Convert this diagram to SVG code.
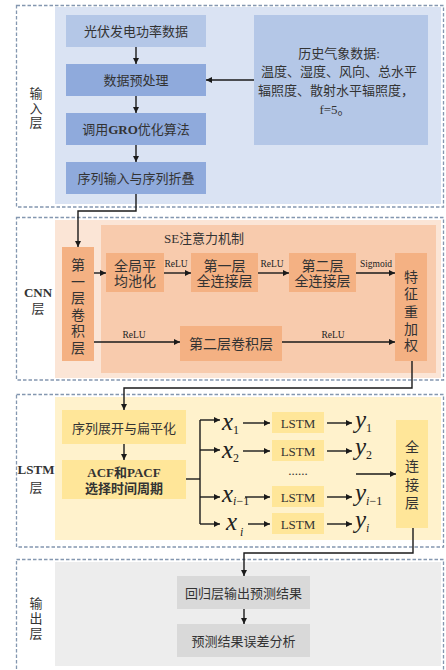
<svg xmlns="http://www.w3.org/2000/svg" width="446" height="670" viewBox="0 0 446 670">
<defs>
<marker id="ah" markerWidth="6" markerHeight="6" refX="6" refY="3" orient="auto" markerUnits="userSpaceOnUse">
<path d="M0,0 L6,3 L0,6 z" fill="#1a1a1a"/>
</marker>
<style>
.dash{fill:#fff;stroke:#8497b0;stroke-width:1.3;stroke-dasharray:3.5,2}
.t{font-family:"Liberation Serif","Noto Sans CJK SC",serif;fill:#333;text-anchor:middle;dominant-baseline:central}
.f13{font-size:13px}
.f14{font-size:14px}
.sm{font-size:9.5px;fill:#222}
.b{font-weight:bold}
.m{font-family:"Liberation Serif",serif;font-style:italic;fill:#222}
.c line,.c polyline{stroke:#1a1a1a;stroke-width:1.4;fill:none}
.ar{marker-end:url(#ah)}
.blue1{fill:#b4c7e7}.blue2{fill:#8faadc}
.or{fill:#f4b183}.ye{fill:#ffe699}.gr{fill:#d9d9d9}
</style>
</defs>
<g id="layers">
<rect class="dash" x="16.5" y="5.5" width="427" height="201.5"/>
<rect x="55" y="7" width="386" height="197" fill="#dae3f3"/>
<rect class="dash" x="16.5" y="217.5" width="427" height="162.5"/>
<rect x="55" y="220" width="386" height="158" fill="#fbe5d6"/>
<rect x="101" y="225" width="335" height="148" fill="#f8cbad"/>
<rect class="dash" x="16.5" y="394.5" width="427" height="152.5"/>
<rect x="55" y="397" width="386" height="143" fill="#fff2cc"/>
<rect class="dash" x="16.5" y="559.5" width="427" height="120"/>
<rect x="55" y="562" width="386" height="104" fill="#ededed"/>
<text class="t f13" x="36"><tspan x="36" y="93">输</tspan><tspan x="36" y="107.5">入</tspan><tspan x="36" y="122">层</tspan></text>
<text class="t f13" x="38"><tspan class="b" x="38" y="292">CNN</tspan><tspan x="38" y="308">层</tspan></text>
<text class="t f13" x="36"><tspan class="b" x="36" y="469">LSTM</tspan><tspan x="36" y="487">层</tspan></text>
<text class="t f13" x="36"><tspan x="36" y="603">输</tspan><tspan x="36" y="618">出</tspan><tspan x="36" y="633">层</tspan></text>
<text class="t f13" x="204" y="238">SE注意力机制</text>
</g>
<g id="n1"><rect class="blue1" x="66" y="15" width="140" height="32"/><text class="t f13" x="136" y="31">光伏发电功率数据</text></g>
<g id="n2"><rect class="blue2" x="66" y="64" width="140" height="32"/><text class="t f13" x="136" y="80">数据预处理</text></g>
<g id="n3"><rect class="blue2" x="66" y="113" width="140" height="32"/><text class="t f13" x="136" y="129">调用<tspan class="b">GRO</tspan>优化算法</text></g>
<g id="n4"><rect class="blue2" x="66" y="162" width="140" height="32"/><text class="t f13" x="136" y="178">序列输入与序列折叠</text></g>
<g id="n5"><rect class="blue1" x="254" y="15" width="174" height="130"/>
<text class="t f13"><tspan x="339" y="53">历史气象数据:</tspan><tspan x="339" y="71">温度、湿度、风向、总水平</tspan><tspan x="336" y="90">辐照度、散射水平辐照度，</tspan><tspan x="335" y="109">f=5。</tspan></text></g>
<g id="n6"><rect class="or" x="62" y="247" width="32" height="114"/>
<text class="t f14"><tspan x="78" y="265">第</tspan><tspan x="78" y="281.5">一</tspan><tspan x="78" y="298">层</tspan><tspan x="78" y="314.5">卷</tspan><tspan x="78" y="331">积</tspan><tspan x="78" y="347.5">层</tspan></text></g>
<g id="n7"><rect class="or" x="106" y="253" width="58" height="39"/><text class="t f14"><tspan x="135" y="266">全局平</tspan><tspan x="135" y="281">均池化</tspan></text></g>
<g id="n8"><rect class="or" x="191" y="253" width="67" height="39"/><text class="t f14"><tspan x="224.5" y="266">第一层</tspan><tspan x="224.5" y="281">全连接层</tspan></text></g>
<g id="n9"><rect class="or" x="289" y="253" width="67" height="39"/><text class="t f14"><tspan x="322.5" y="266">第二层</tspan><tspan x="322.5" y="281">全连接层</tspan></text></g>
<g id="n10"><rect class="or" x="395" y="253" width="32" height="108"/>
<text class="t f14"><tspan x="411" y="277">特</tspan><tspan x="411" y="294">征</tspan><tspan x="411" y="312">重</tspan><tspan x="411" y="329">加</tspan><tspan x="411" y="345">权</tspan></text></g>
<g id="n11"><rect class="or" x="180" y="326" width="102" height="35"/><text class="t f14" x="231" y="344">第二层卷积层</text></g>
<g id="n12"><rect class="ye" x="62" y="410" width="124" height="34"/><text class="t f13" x="124" y="428">序列展开与扁平化</text></g>
<g id="n13"><rect class="ye" x="62" y="460" width="124" height="39"/><text class="t f13"><tspan class="b" x="124" y="472">ACF和PACF</tspan><tspan class="b" x="124" y="488">选择时间周期</tspan></text></g>
<g id="n14"><rect class="ye" x="272" y="412" width="52" height="21"/><text class="t f13" x="298" y="423">LSTM</text></g>
<g id="n15"><rect class="ye" x="272" y="440" width="52" height="21"/><text class="t f13" x="298" y="451">LSTM</text></g>
<g id="n16"><rect class="ye" x="272" y="486" width="52" height="21"/><text class="t f13" x="298" y="497">LSTM</text></g>
<g id="n17"><rect class="ye" x="272" y="513" width="52" height="21"/><text class="t f13" x="298" y="524">LSTM</text></g>
<text class="t f13" x="298" y="470">......</text>
<g id="n18"><rect class="ye" x="396" y="420" width="32" height="108"/>
<text class="t f14"><tspan x="412" y="447">全</tspan><tspan x="412" y="466">连</tspan><tspan x="412" y="485">接</tspan><tspan x="412" y="503">层</tspan></text></g>
<g id="n19"><rect class="gr" x="177" y="576" width="133" height="33"/><text class="t f13" x="243.5" y="593">回归层输出预测结果</text></g>
<g id="n20"><rect class="gr" x="177" y="624" width="133" height="33"/><text class="t f13" x="243.5" y="641">预测结果误差分析</text></g>
<g id="math">
<text class="m" font-size="25" x="222" y="430">x<tspan font-style="normal" font-size="12" dy="4">1</tspan></text>
<text class="m" font-size="25" x="222" y="458">x<tspan font-style="normal" font-size="12" dy="4">2</tspan></text>
<text class="m" font-size="25" x="222" y="502">x<tspan font-size="12" dy="3">i</tspan><tspan font-style="normal" font-size="12">−1</tspan></text>
<text class="m" font-size="25" x="226" y="530">x<tspan font-size="12" dx="3" dy="6">i</tspan></text>
<text class="m" font-size="25" x="355" y="428">y<tspan font-style="normal" font-size="12" dy="4">1</tspan></text>
<text class="m" font-size="25" x="355" y="455">y<tspan font-style="normal" font-size="12" dy="4">2</tspan></text>
<text class="m" font-size="25" x="355" y="501">y<tspan font-size="12" dy="4">i</tspan><tspan font-style="normal" font-size="12">−1</tspan></text>
<text class="m" font-size="25" x="355" y="528">y<tspan font-size="12" dy="4">i</tspan></text>
</g>
<g id="connectors" class="c">
<line class="ar" x1="136" y1="47" x2="136" y2="64"/>
<line class="ar" x1="136" y1="96" x2="136" y2="113"/>
<line class="ar" x1="136" y1="145" x2="136" y2="162"/>
<line class="ar" x1="254" y1="80" x2="206" y2="80"/>
<polyline class="ar" points="136,194 136,211 78,211 78,247"/>
<line class="ar" x1="94" y1="273" x2="106" y2="273"/>
<line class="ar" x1="164" y1="273" x2="191" y2="273"/>
<line class="ar" x1="258" y1="273" x2="289" y2="273"/>
<line class="ar" x1="356" y1="273" x2="395" y2="273"/>
<line class="ar" x1="94" y1="342" x2="180" y2="342"/>
<line class="ar" x1="282" y1="342" x2="395" y2="342"/>
<polyline class="ar" points="412,361 412,388 124,388 124,410"/>
<line class="ar" x1="124" y1="444" x2="124" y2="460"/>
<polyline points="186,479 200,479"/>
<line x1="200" y1="420" x2="200" y2="524"/>
<line class="ar" x1="200" y1="420" x2="220" y2="420"/>
<line class="ar" x1="200" y1="450" x2="220" y2="450"/>
<line class="ar" x1="200" y1="497" x2="220" y2="497"/>
<line class="ar" x1="200" y1="524" x2="220" y2="524"/>
<line class="ar" x1="243" y1="423" x2="270" y2="423"/>
<line class="ar" x1="243" y1="451" x2="270" y2="451"/>
<line class="ar" x1="245" y1="497" x2="270" y2="497"/>
<line class="ar" x1="248" y1="524" x2="270" y2="524"/>
<line class="ar" x1="327" y1="423" x2="352" y2="423"/>
<line class="ar" x1="327" y1="451" x2="352" y2="451"/>
<line class="ar" x1="327" y1="497" x2="352" y2="497"/>
<line class="ar" x1="327" y1="524" x2="352" y2="524"/>
<line class="ar" x1="356" y1="474" x2="396" y2="474"/>
<polyline class="ar" points="413,528 413,553 244,553 244,576"/>
<line class="ar" x1="244" y1="609" x2="244" y2="624"/>
</g>
<g id="edge-labels">
<text class="t sm" x="176" y="264">ReLU</text>
<text class="t sm" x="272" y="264">ReLU</text>
<text class="t sm" x="376" y="264">Sigmoid</text>
<text class="t sm" x="134" y="335">ReLU</text>
<text class="t sm" x="333" y="335">ReLU</text>
</g>
</svg>
